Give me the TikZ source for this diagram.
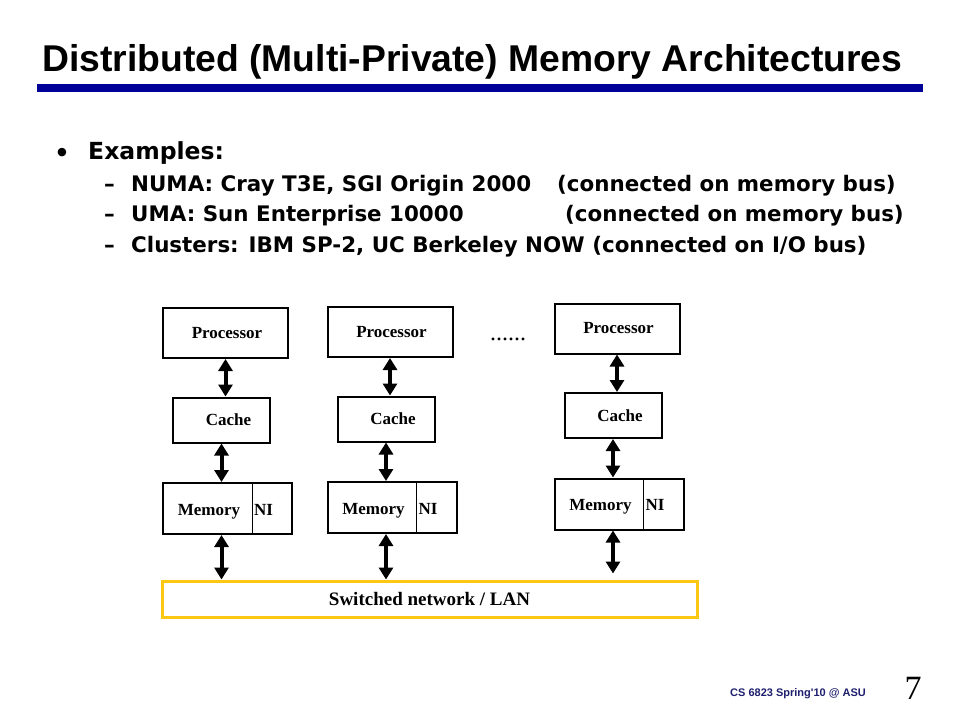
\documentclass[tikz,border=0pt]{standalone}
\usepackage{fontspec}
\setmainfont{Liberation Serif}
\newfontfamily\headfont{Liberation Sans}
\newfontfamily\listfont{DejaVu Sans}
\usetikzlibrary{arrows.meta}
\definecolor{barblue}{RGB}{0,0,153}
\definecolor{langold}{RGB}{252,200,20}
\definecolor{footblue}{RGB}{30,30,110}
\tikzstyle{unit} = [draw, line width=2pt, inner sep=0pt, font=\fontsize{17}{18}\selectfont\bfseries]
\tikzstyle{procbox} = [unit, minimum width=125pt, minimum height=50pt]
\tikzstyle{cachebox} = [unit, minimum width=97pt, minimum height=45pt]
\tikzstyle{membox} = [unit, minimum width=129pt, minimum height=51pt]
\tikzstyle{netbox} = [draw=langold, line width=3pt, minimum width=535pt, minimum height=36pt, font=\fontsize{19}{21}\selectfont\bfseries]
\tikzstyle{link} = [line width=4pt, {Triangle[length=12pt,width=14pt]}-{Triangle[length=12pt,width=14pt]}]
\tikzstyle{item} = [anchor=base west, inner sep=0pt, font=\listfont\fontsize{21.4}{24}\selectfont\bfseries]

\begin{document}
\begin{tikzpicture}[x=1pt, y=-1pt]
  \useasboundingbox (0,0) rectangle (960,720);
  % Title and bar
  \node[anchor=base west, inner sep=0pt, font=\headfont\fontsize{37.3}{40}\selectfont\bfseries] (title) at (42,71) {Distributed (Multi-Private) Memory Architectures};
  \fill[barblue] (37,84) rectangle (923,92);
  % Bullets
  \node[anchor=base, inner sep=0pt, font=\listfont\fontsize{24}{24}\selectfont\bfseries] (bullet) at (62,161) {•};
  \node[item, font=\listfont\fontsize{23.5}{26}\selectfont\bfseries] (ex) at (88,159) {Examples:};
  \foreach \y/\n in {191/1, 221/2, 252/3} {
    \node[item] (dash\n) at (104,\y) {–};
  }
  \node[item] (numa) at (131,191) {NUMA: Cray T3E, SGI Origin 2000};
  \node[item] (numabus) at (557,191) {(connected on memory bus)};
  \node[item] (uma) at (131,221) {UMA: Sun Enterprise 10000};
  \node[item] (umabus) at (565,221) {(connected on memory bus)};
  \node[item] (clus) at (131,252) {Clusters: IBM SP-2, UC Berkeley NOW (connected on I/O bus)};
  % Nodes
  \foreach \i/\x/\y in {1/225.5/333, 2/390/332, 3/617/328.5} {
    \node[procbox] (p\i) at (\x,\y) {\hspace*{3pt}Processor};
    \node[cachebox] (c\i) at (\x-4,\y+87) {\hspace*{14pt}Cache};
    \node[membox] (m\i) at (\x+2,\y+175.5) {};
    \node[unit, draw=none, yshift=-3pt] (mt\i) at ([xshift=47pt]m\i.west) {Memory};
    \node[unit, draw=none, anchor=base west, xshift=44pt] (ni\i) at (mt\i.base) {NI};
    \draw[line width=1pt] ([xshift=90pt]m\i.north west) -- ([xshift=90pt]m\i.south west);
  }
  \node[font=\fontsize{24}{24}\selectfont] (dots) at (508,339) {......};
  \node[netbox] (lan) at (429.5,599) {Switched network / LAN};
  % Links
  \foreach \i/\gap in {1/0, 2/0, 3/6} {
    \draw[link] (p\i.south) -- (p\i.south |- c\i.north);
    \draw[link] (c\i.south) -- (c\i.south |- m\i.north);
    \draw[link, shorten >=\gap pt] (m\i.south -| c\i) -- (lan.north -| c\i);
  }
  % Footer
  \node[anchor=base west, inner sep=0pt, text=footblue, font=\headfont\fontsize{11}{12}\selectfont\bfseries] (foot) at (730,696) {CS 6823 Spring'10 @ ASU};
  \node[anchor=base, inner sep=0pt, font=\fontsize{34}{36}\selectfont] (page) at (913,699) {7};
\end{tikzpicture}
\end{document}
